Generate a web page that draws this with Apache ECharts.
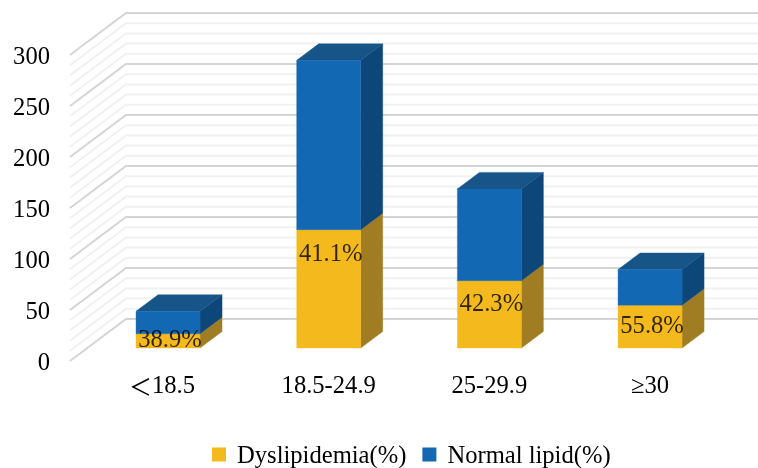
<!DOCTYPE html>
<html><head><meta charset="utf-8">
<style>html,body{margin:0;padding:0;background:#fff}#c{width:758px;height:468px}</style>
<script src="https://cdn.jsdelivr.net/npm/echarts@6/dist/echarts.min.js"></script>
</head><body><div id="c"></div>
<script>
const categories = ['＜18.5', '18.5-24.9', '25-29.9', '≥30'];
const dyslipidemia = [14, 116, 66, 42];
const normalLipid = [22, 166, 90, 35];
const percentLabels = ['38.9%', '41.1%', '42.3%', '55.8%'];
const percentLabelAt = [9, 93, 44, 22.5];
const yTicks = [0, 50, 100, 150, 200, 250, 300];
const wallLevels = [0,10,20,30,40,50,60,70,80,90,100,110,120,130,140,150,160,170,180,190,200,210,220,230,240,250,260,270,280,290,300];
const seriesNames = ['Dyslipidemia(%)', 'Normal lipid(%)'];

const FONT = '"Liberation Serif","Times New Roman",serif';
const FS = 24.6;
const WALL_DX = 56, WALL_DY = -42;
const BAR_DX = 22, BAR_DY = -16.5, BAR_RATIO = 64 / 160.67;

function poly(points, fill, z) {
  return { type: 'polygon', shape: { points }, style: { fill, stroke: fill, lineWidth: 0.4 }, z2: z };
}
function barRenderer(front, side, top) {
  return function (params, api) {
    const i = api.value(0);
    const a = api.coord([i, api.value(1)]);
    const b = api.coord([i, api.value(2)]);
    const w = api.size([1, 0])[0] * BAR_RATIO;
    const l = a[0] - w / 2, r = a[0] + w / 2, y0 = a[1], y1 = b[1];
    const kids = [
      poly([[l, y1], [r, y1], [r, y0], [l, y0]], front, 3),
      poly([[r, y1], [r + BAR_DX, y1 + BAR_DY], [r + BAR_DX, y0 + BAR_DY], [r, y0]], side, 2)
    ];
    if (top) kids.push(poly([[l, y1], [l + BAR_DX, y1 + BAR_DY], [r + BAR_DX, y1 + BAR_DY], [r, y1]], top, 2));
    return { type: 'group', children: kids };
  };
}
function wallRenderer(params, api) {
  const v = api.value(0);
  const p = api.coord([0, v]);
  const x0 = params.coordSys.x;
  const major = v % 50 === 0;
  return {
    type: 'polyline',
    silent: true,
    shape: { points: [[x0, p[1]], [x0 + WALL_DX, p[1] + WALL_DY], [x0 + params.coordSys.width + WALL_DX, p[1] + WALL_DY]] },
    style: { fill: 'none', stroke: major ? '#d4d4d4' : '#f1f1f1', lineWidth: 2 }
  };
}
const stackBase = dyslipidemia;
const stackTop = normalLipid.map((v, i) => v + dyslipidemia[i]);

const chart = echarts.init(document.getElementById('c'), null, { renderer: 'canvas' });
chart.setOption({
  animation: false,
  backgroundColor: '#fff',
  textStyle: { fontFamily: FONT },
  grid: [
    { left: 70, top: 55, width: 642.7, height: 306 },
    { left: 87.7, top: 42, width: 642.7, height: 306 }
  ],
  xAxis: [
    { gridIndex: 0, type: 'category', data: categories, show: false },
    { gridIndex: 1, type: 'category', data: categories,
      axisLine: { show: false }, axisTick: { show: false }, splitLine: { show: false },
      axisLabel: { interval: 0, margin: 26, color: '#000', fontSize: FS, fontFamily: FONT,
        formatter: v => v.charAt(0) === '＜' ? '{lt|＜}{n|' + v.slice(1) + '}' : v,
        rich: {
          lt: { fontSize: 23, color: '#000', fontFamily: '"Noto Sans CJK JP",' + FONT },
          n: { fontSize: FS, color: '#000', fontFamily: FONT, padding: [0, 12, 0, 0] }
        } } }
  ],
  yAxis: [
    { gridIndex: 0, type: 'value', min: 0, max: 300, interval: 50,
      axisLine: { show: false }, axisTick: { show: false }, splitLine: { show: false },
      axisLabel: { margin: 20, color: '#000', fontSize: FS, fontFamily: FONT,
        formatter: v => '{v|' + v + '}',
        rich: { v: { fontSize: FS, color: '#000', fontFamily: FONT, padding: [5, 0, 0, 0] } },
        customValues: yTicks } },
    { gridIndex: 1, type: 'value', min: 0, max: 300, interval: 50, show: false }
  ],
  legend: {
    data: seriesNames,
    left: 212, top: 444, padding: 0,
    itemWidth: 14, itemHeight: 14, itemGap: 16,
    icon: 'rect',
    formatter: n => '{v|' + n + '}',
    textStyle: { fontSize: FS, fontFamily: FONT, color: '#000',
      rich: { v: { fontSize: FS, color: '#000', fontFamily: FONT, padding: [4, 0, 0, 6] } } },
    selectedMode: false
  },
  series: [
    { name: 'wall', type: 'custom', xAxisIndex: 0, yAxisIndex: 0, clip: false, silent: true, z: 1,
      renderItem: wallRenderer, encode: { y: 0 }, data: wallLevels.map(v => [v]) },
    { name: seriesNames[0], type: 'custom', xAxisIndex: 1, yAxisIndex: 1, clip: false, z: 2,
      itemStyle: { color: '#F4B91C' },
      renderItem: barRenderer('#F4B91C', '#A07C22', null),
      encode: { x: 0, y: 2 },
      data: dyslipidemia.map((v, i) => [i, 0, v]) },
    { name: seriesNames[1], type: 'custom', xAxisIndex: 1, yAxisIndex: 1, clip: false, z: 3,
      itemStyle: { color: '#1268B3' },
      renderItem: barRenderer('#1268B3', '#0D4678', '#175488'),
      encode: { x: 0, y: 2 },
      data: normalLipid.map((v, i) => [i, stackBase[i], stackTop[i]]) },
    { name: 'labels', type: 'scatter', xAxisIndex: 1, yAxisIndex: 1, symbolSize: 0, z: 5, silent: true,
      data: percentLabelAt.map((v, i) => [i, v]),
      label: { show: true, position: 'inside', offset: [2, 1.5], color: '#000', fontSize: FS, fontFamily: FONT,
        formatter: p => percentLabels[p.dataIndex] } }
  ]
});
</script></body></html>
